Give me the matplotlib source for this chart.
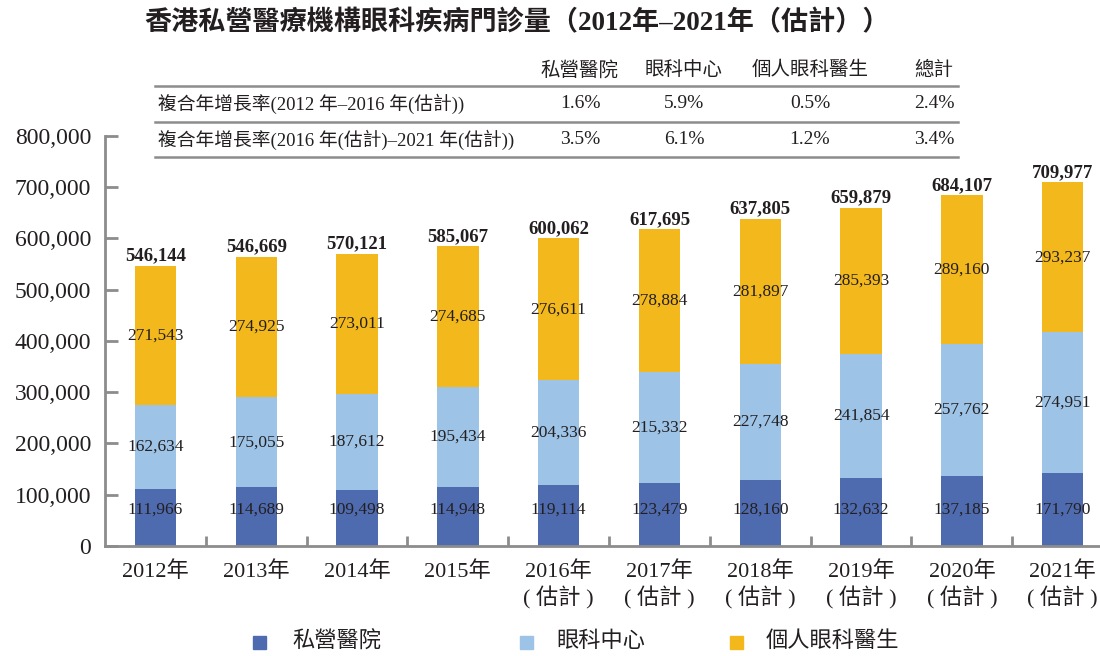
import matplotlib
matplotlib.use("Agg")
import matplotlib.pyplot as plt
from matplotlib.patches import Rectangle
from matplotlib.lines import Line2D
import numpy as np

plt.rcParams['font.family'] = ['Liberation Serif', 'Noto Sans CJK TC']
TXT = '#231f20'

years = ['2012年', '2013年', '2014年', '2015年', '2016年\n( 估計 )', '2017年\n( 估計 )',
         '2018年\n( 估計 )', '2019年\n( 估計 )', '2020年\n( 估計 )', '2021年\n( 估計 )']
hospital = [111966, 114689, 109498, 114948, 119114, 123479, 128160, 132632, 137185, 141790]
hospital_labels = ['111,966', '114,689', '109,498', '114,948', '119,114', '123,479',
                   '128,160', '132,632', '137,185', '171,790']
centre = [162634, 175055, 187612, 195434, 204336, 215332, 227748, 241854, 257762, 274951]
doctor = [271543, 274925, 273011, 274685, 276611, 278884, 281897, 285393, 289160, 293237]
total_labels = ['546,144', '546,669', '570,121', '585,067', '600,062', '617,695',
                '637,805', '659,879', '684,107', '709,977']

series_names = ['私營醫院', '眼科中心', '個人眼科醫生']
colors = ['#4f6bb0', '#9dc3e6', '#f3b81c']

table_header = ['私營醫院', '眼科中心', '個人眼科醫生', '總計']
table_rows = ['複合年增長率(2012 年–2016 年(估計))', '複合年增長率(2016 年(估計)–2021 年(估計))']
cagr = [['1.6%', '5.9%', '0.5%', '2.4%'],
        ['3.5%', '6.1%', '1.2%', '3.4%']]

fig = plt.figure(figsize=(11, 6.56), dpi=100)
ax = fig.add_axes([0.0955, 0.1677, 0.9045, 0.625])

x = np.arange(len(years))
w = 0.41
b1 = ax.bar(x, hospital, w, color=colors[0])
b2 = ax.bar(x, centre, w, bottom=hospital, color=colors[1])
bottom3 = np.array(hospital) + np.array(centre)
b3 = ax.bar(x, doctor, w, bottom=bottom3, color=colors[2])

# bottom labels sit at a common height in the original
for xi, lab in zip(x, hospital_labels):
    ax.text(xi, 70000, lab, ha='center', va='center', fontsize=12.5, color=TXT)
ax.bar_label(b2, labels=[f'{v:,}' for v in centre], label_type='center', fontsize=12.5, color=TXT)
ax.bar_label(b3, labels=[f'{v:,}' for v in doctor], label_type='center', fontsize=12.5, color=TXT)
ax.bar_label(b3, labels=total_labels, padding=1, fontsize=13.5, fontweight='bold', color=TXT)

ax.set_xlim(-0.5, 9.37)
ax.set_ylim(0, 800000)
ax.set_yticks(np.arange(0, 800001, 100000))
ax.set_yticklabels(['0'] + [f'{v:,}' for v in range(100000, 800001, 100000)])
ax.set_xticks(x)
ax.set_xticklabels(years, linespacing=1.25)
ax.set_xticks(np.arange(0.5, 9.5, 1), minor=True)

for s in ['top', 'right']:
    ax.spines[s].set_visible(False)
for s in ['left', 'bottom']:
    ax.spines[s].set_color('#8c8c8c')
    ax.spines[s].set_linewidth(2)
ax.tick_params(axis='y', direction='in', length=9, width=2, color='#8c8c8c',
               labelsize=17, labelcolor=TXT, pad=10)
ax.tick_params(axis='x', which='major', length=0, labelsize=16, labelcolor=TXT, pad=11)
ax.tick_params(axis='x', which='minor', direction='in', length=7, width=2, color='#8c8c8c')

# title
fig.text(0.131, 0.965, '香港私營醫療機構眼科疾病門診量（2012年–2021年（估計））',
         fontsize=19.5, fontweight='bold', color=TXT, va='center', ha='left')

# CAGR table
col_x = [580, 684, 810, 934]
for cx, h in zip(col_x, table_header):
    fig.text(cx / 1100, 1 - 70 / 656, h, fontsize=14, color=TXT, ha='center', va='center')
row_y = [104, 140]
for ry, label, vals in zip(row_y, table_rows, cagr):
    fig.text(158 / 1100, 1 - ry / 656, label, fontsize=13.5, color=TXT, ha='left', va='center')
    for cx, v in zip(col_x, vals):
        fig.text(cx / 1100, 1 - ry / 656, v, fontsize=14, color=TXT, ha='center', va='center')
for ly in [86, 122, 157]:
    fig.add_artist(Line2D([155 / 1100, 958 / 1100], [1 - ly / 656] * 2,
                          color='#8c8c8c', lw=1.8, transform=fig.transFigure))

# legend, drawn by hand because the original spacing is uneven
leg_sq = [253, 520, 730]
leg_txt = [292, 556, 766]
for sx, tx, name, c in zip(leg_sq, leg_txt, series_names, colors):
    fig.add_artist(Rectangle((sx / 1100, 1 - 649 / 656), 13 / 1100, 13 / 656,
                             color=c, transform=fig.transFigure))
    fig.text(tx / 1100, 1 - 642 / 656, name, fontsize=16, color=TXT, ha='left', va='center')

fig.savefig('out.png', dpi=100)
